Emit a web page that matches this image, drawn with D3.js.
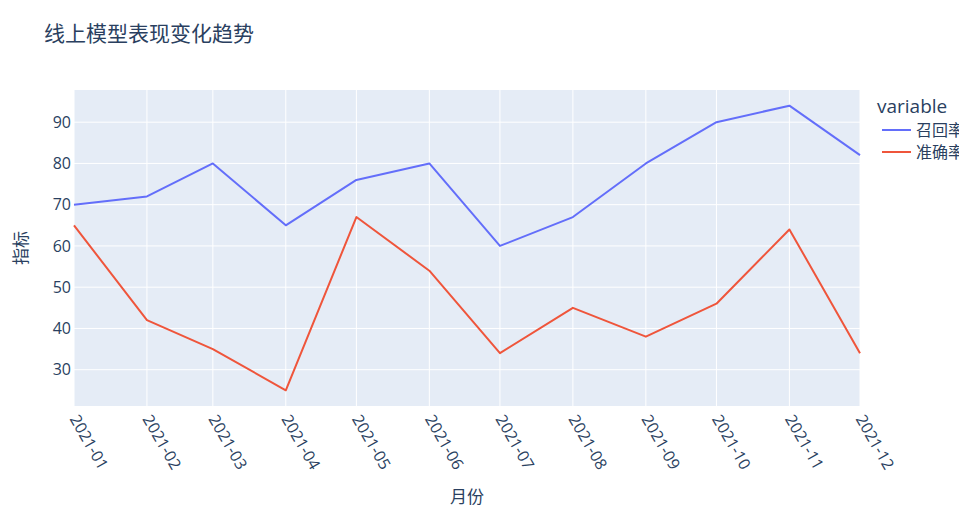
<!DOCTYPE html>
<html><head><meta charset="utf-8">
<script src="https://cdn.jsdelivr.net/npm/d3@7"></script>
<style>
body{margin:0;background:#fff;}
text{font-family:"Open Sans","Noto Sans CJK SC",sans-serif;fill:#2a3f5f;}
</style></head><body>
<svg id="c" width="959" height="515"></svg>
<script>
const months = ["2021-01","2021-02","2021-03","2021-04","2021-05","2021-06","2021-07","2021-08","2021-09","2021-10","2021-11","2021-12"];
const recall = [70,72,80,65,76,80,60,67,80,90,94,82];
const precision = [65,42,35,25,67,54,34,45,38,46,64,34];
const seriesNames = ["召回率","准确率"];
const colors = ["#636efa","#EF553B"];
const yTicks = [30,40,50,60,70,80,90];

const svg = d3.select("#c");
const L=74,R=860,T=90,B=406;
const parse = d3.timeParse("%Y-%m");
const dates = months.map(parse);
const x = d3.scaleTime().domain(d3.extent(dates)).range([L,R]);
const y = d3.scaleLinear().domain([21.2,97.8]).range([B,T]);

svg.append("rect").attr("x",L).attr("y",T).attr("width",R-L).attr("height",B-T).attr("fill","#e5ecf6");
// grid
svg.append("g").selectAll("line").data(yTicks).join("line")
 .attr("x1",L).attr("x2",R).attr("y1",d=>y(d)).attr("y2",d=>y(d)).attr("stroke","#fff").attr("stroke-width",1);
svg.append("g").selectAll("line").data(dates).join("line")
 .attr("y1",T).attr("y2",B).attr("x1",d=>x(d)).attr("x2",d=>x(d)).attr("stroke","#fff").attr("stroke-width",1);

// y tick labels
svg.append("g").selectAll("text").data(yTicks).join("text")
 .attr("x",L-3).attr("y",d=>y(d)).attr("dy","0.35em").attr("text-anchor","end")
 .attr("font-size",16).text(d=>d);
// x tick labels
svg.append("g").selectAll("text").data(dates).join("text")
 .attr("transform",d=>`translate(${x(d)},${B+10}) rotate(60)`)
 .attr("dy","0.35em").attr("text-anchor","start").attr("font-size",16)
 .text((d,i)=>months[i]);

// lines
const line = d3.line().x((d,i)=>x(dates[i])).y(d=>y(d));
[recall,precision].forEach((s,k)=>{
  svg.append("path").datum(s).attr("d",line).attr("fill","none")
   .attr("stroke",colors[k]).attr("stroke-width",2).attr("stroke-linejoin","round");
});

// titles
svg.append("text").attr("x",44).attr("y",41).attr("font-size",21).text("线上模型表现变化趋势");
svg.append("text").attr("x",(L+R)/2).attr("y",503).attr("text-anchor","middle").attr("font-size",17).text("月份");
svg.append("text").attr("transform",`translate(27,${(T+B)/2}) rotate(-90)`).attr("text-anchor","middle").attr("font-size",17).text("指标");

// legend
svg.append("text").attr("x",877).attr("y",113).attr("font-size",19).text("variable");
seriesNames.forEach((n,k)=>{
  const yy=130+k*22;
  svg.append("line").attr("x1",882).attr("x2",911).attr("y1",yy).attr("y2",yy).attr("stroke",colors[k]).attr("stroke-width",2);
  svg.append("text").attr("x",916).attr("y",yy).attr("dy","0.35em").attr("font-size",16).text(n);
});
</script></body></html>
